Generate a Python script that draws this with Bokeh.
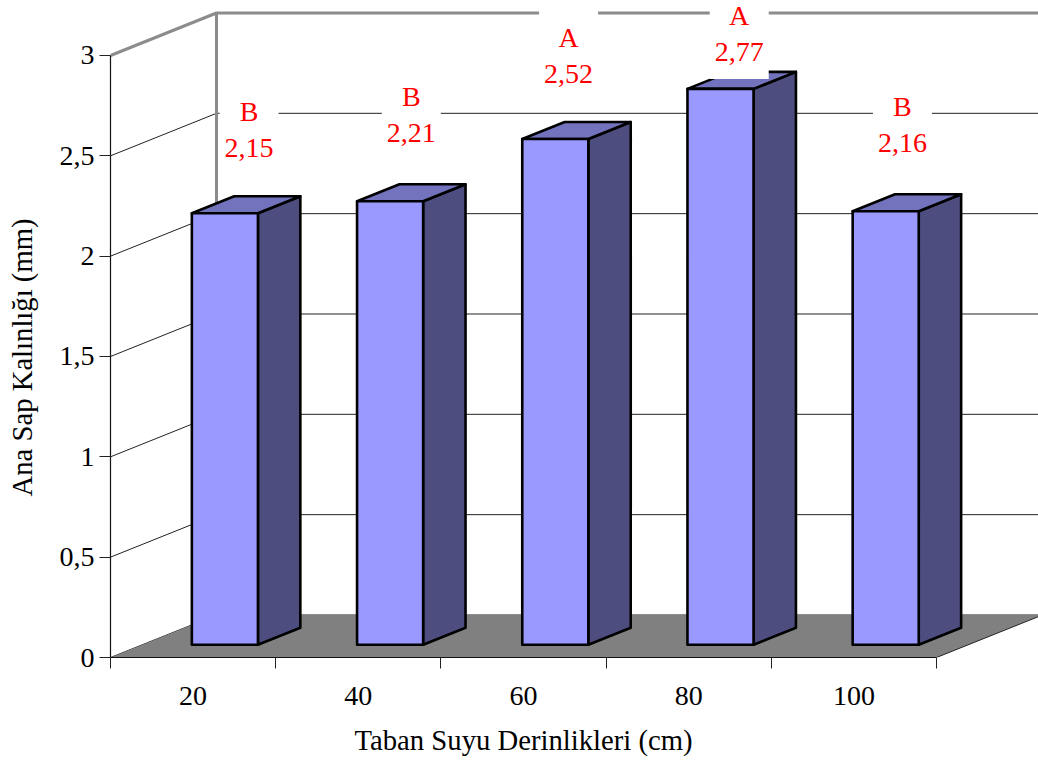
from bokeh.core.properties import value
from bokeh.embed import file_html
from bokeh.models import FixedTicker, Range1d, Title
from bokeh.plotting import figure
from bokeh.resources import INLINE

# Measurements per groundwater depth
categories = ["20", "40", "60", "80", "100"]
thickness = [2.15, 2.21, 2.52, 2.77, 2.16]
groups = ["B", "B", "A", "A", "B"]
value_labels = ["2,15", "2,21", "2,52", "2,77", "2,16"]

y_ticks = [0, 0.5, 1, 1.5, 2, 2.5, 3]
y_tick_labels = ["0", "0,5", "1", "1,5", "2", "2,5", "3"]

# Oblique projection: one unit of depth shifts a point by this much
DEPTH_X = 0.6416
DEPTH_Y = 0.2118
BAR_HALF = 0.2
BAR_DEPTH = (0.3, 0.7)

# Placement of each annotation block relative to its bar, in axis units
label_lift = [0.415, 0.43, 0.416, 0.274, 0.431]
label_shift = [0.018, 0.0, -0.048, -0.015, -0.027]

SERIF = "Liberation Serif"
FONT_SIZE = "28px"


def project(cat_x, val_y, depth):
    return cat_x + depth * DEPTH_X, val_y + depth * DEPTH_Y


n = len(categories)
p = figure(
    width=1038,
    height=760,
    output_backend="svg",
    toolbar_location=None,
    x_range=Range1d(0, 928 / 165.2),
    y_range=Range1d(0, 657 / 200.67),
    min_border_left=110,
    min_border_right=0,
    min_border_top=0,
    min_border_bottom=103,
    outline_line_color=None,
    background_fill_color="white",
)
p.grid.visible = False

# Back wall gridlines with their diagonal returns along the side wall
grid_xs, grid_ys = [], []
for tick in y_ticks[:-1]:
    bx, by = project(0, tick, 1)
    grid_xs.append([0, bx, project(n, tick, 1)[0] + 1])
    grid_ys.append([tick, by, by])
p.multi_line(grid_xs, grid_ys, line_color="#222222", line_width=1)

# Floor
fx = [project(0, 0, 0)[0], project(n, 0, 0)[0], project(n, 0, 1)[0], project(0, 0, 1)[0]]
fy = [project(0, 0, 0)[1], project(n, 0, 0)[1], project(n, 0, 1)[1], project(0, 0, 1)[1]]
p.patch(fx, fy, fill_color="#808080", line_color=None)
p.line(fx[1:3], fy[1:3], line_color="#222222", line_width=1)

# Grey frame of the walls
top = y_ticks[-1]
wall_x = [0, project(0, top, 1)[0], project(n, top, 1)[0] + 1]
wall_y = [top, project(0, top, 1)[1], project(0, top, 1)[1]]
p.line(wall_x, wall_y, line_color="#8c8c8c", line_width=3)
p.line(
    [project(0, 0, 1)[0]] * 2,
    [project(0, 0, 1)[1], project(0, top, 1)[1]],
    line_color="#8c8c8c",
    line_width=3,
)

# Bars: side, top and front faces
d0, d1 = BAR_DEPTH
bar_style = dict(line_color="black", line_width=2.6, line_join="round")
for i, height in enumerate(thickness):
    left, right = i + 0.5 - BAR_HALF, i + 0.5 + BAR_HALF
    corners_side = [(right, 0, d0), (right, 0, d1), (right, height, d1), (right, height, d0)]
    corners_top = [(left, height, d0), (left, height, d1), (right, height, d1), (right, height, d0)]
    corners_front = [(left, 0, d0), (right, 0, d0), (right, height, d0), (left, height, d0)]
    for corners, colour in (
        (corners_side, "#4D4D80"),
        (corners_top, "#7373BD"),
        (corners_front, "#9999FF"),
    ):
        pts = [project(*c) for c in corners]
        p.patch([q[0] for q in pts], [q[1] for q in pts], fill_color=colour, **bar_style)

# Annotation blocks: white backing, group letter and mean value
for i in range(n):
    cx = project(i + 0.5, 0, 0.5)[0] + label_shift[i]
    cy = thickness[i] + label_lift[i] + d0 * DEPTH_Y
    p.rect([cx], [cy], width=59 / 165.2, height=90 / 200.67, fill_color="white", line_color=None)
    for text, shift in ((groups[i], 0.092), (value_labels[i], -0.092)):
        p.text(
            [cx],
            [cy + shift],
            text=[text],
            text_color="#FF0000",
            text_font=value(SERIF),
            text_font_size=FONT_SIZE,
            text_align="center",
            text_baseline="middle",
        )

# Axes
yaxis = p.yaxis[0]
yaxis.bounds = (0, 3)
yaxis.ticker = FixedTicker(ticks=y_ticks)
yaxis.major_label_overrides = dict(zip(y_ticks, y_tick_labels))
yaxis.major_tick_in = 0
yaxis.major_tick_out = 11
yaxis.minor_tick_in = 0
yaxis.minor_tick_out = 0
yaxis.major_label_standoff = 5
yaxis.major_label_orientation = "horizontal"

xaxis = p.xaxis[0]
xaxis.bounds = (0, n)
centres = [i + 0.5 for i in range(n)]
xaxis.ticker = FixedTicker(ticks=centres, minor_ticks=list(range(n + 1)))
xaxis.major_label_overrides = dict(zip(centres, categories))
xaxis.major_tick_in = 0
xaxis.major_tick_out = 0
xaxis.minor_tick_in = 0
xaxis.minor_tick_out = 11
xaxis.major_label_standoff = 18

for ax in (xaxis, yaxis):
    ax.axis_line_color = "#111111"
    ax.axis_line_width = 1.2
    ax.major_tick_line_color = "#222222"
    ax.minor_tick_line_color = "#222222"
    ax.major_label_text_font = SERIF
    ax.major_label_text_font_size = FONT_SIZE
    ax.major_label_text_color = "black"

# Axis titles, placed along the part of each axis that carries ticks.
# A blank title ahead of each one holds it clear of the tick labels.
title_style = dict(
    text_font=SERIF,
    text_font_size="28.7px",
    text_font_style="normal",
    text_color="black",
    align="left",
    standoff=0,
)
p.add_layout(Title(text=" ", text_font_size="10px", standoff=1), "below")
p.add_layout(Title(text="Taban Suyu Derinlikleri (cm)", offset=244, **title_style), "below")
p.add_layout(Title(text=" ", text_font_size="10px", standoff=6), "left")
p.add_layout(Title(text="Ana Sap Kalınlığı (mm)", offset=161, **title_style), "left")

open("out.html", "w").write(file_html(p, INLINE))
